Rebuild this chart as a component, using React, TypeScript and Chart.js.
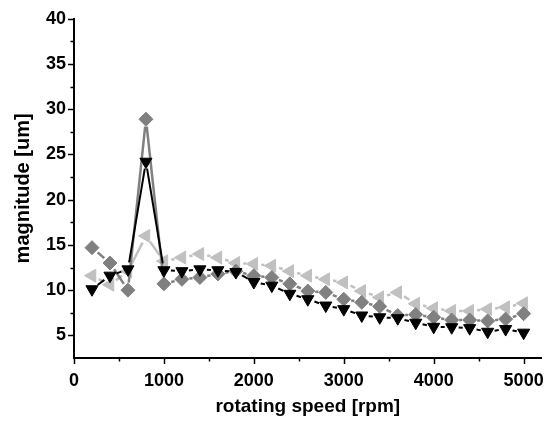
import React, { useEffect, useRef } from "react";
import { Chart, registerables } from "chart.js";

Chart.register(...registerables);

const speeds = [200, 400, 600, 800, 1000, 1200, 1400, 1600, 1800, 2000, 2200, 2400, 2600, 2800, 3000, 3200, 3400, 3600, 3800, 4000, 4200, 4400, 4600, 4800, 5000];
const blackSeries = [10.1, 11.6, 12.3, 24.2, 12.2, 12.1, 12.3, 12.2, 12.0, 10.9, 10.5, 9.6, 9.0, 8.3, 7.9, 7.2, 7.0, 6.9, 6.4, 5.95, 5.9, 5.8, 5.4, 5.7, 5.3];
const greySeries = [14.7, 13.0, 10.0, 28.9, 10.7, 11.2, 11.4, 11.8, 12.1, 11.6, 11.4, 10.7, 9.9, 9.75, 9.0, 8.65, 8.2, 7.2, 7.3, 7.0, 6.7, 6.7, 6.6, 6.8, 7.4];
const lightSeries = [11.6, 10.6, 12.1, 16.0, 13.2, 13.6, 14.0, 13.6, 13.0, 12.9, 12.7, 12.1, 11.6, 11.2, 10.85, 9.9, 9.2, 9.75, 8.5, 8.0, 7.7, 7.7, 7.9, 8.1, 8.55];
const xTickValues = [0, 1000, 2000, 3000, 4000, 5000];
const yTickValues = [5, 10, 15, 20, 25, 30, 35, 40];

const FONT = "'Liberation Sans', Arial, sans-serif";

const pts = (ys: number[]) => speeds.map((x, i) => ({ x, y: ys[i] }));

// line stops short of each symbol (gap-to-symbol look)
const gapDash = (gap: number) => (ctx: any) => {
  const dx = ctx.p1.x - ctx.p0.x;
  const dy = ctx.p1.y - ctx.p0.y;
  const len = Math.hypot(dx, dy);
  const mid = Math.max(len - 2 * gap, 0);
  return [0, Math.min(gap, len / 2), mid, Math.min(gap, len / 2)];
};

const minorTicks = {
  id: "minorTicks",
  afterDraw(chart: any) {
    const { ctx } = chart;
    const xs = chart.scales.x;
    const ys = chart.scales.y;
    ctx.save();
    ctx.strokeStyle = "#000";
    ctx.lineWidth = 1.5;
    ctx.beginPath();
    for (let v = 0; v <= 5000; v += 500) {
      const px = Math.round(xs.getPixelForValue(v)) + 0.5;
      const len = v % 1000 === 0 ? 6 : 3.5;
      ctx.moveTo(px, ys.bottom);
      ctx.lineTo(px, ys.bottom + len);
    }
    for (let v = 5; v <= 40; v += 2.5) {
      const py = Math.round(ys.getPixelForValue(v)) + 0.5;
      const len = v % 5 === 0 ? 6 : 3.5;
      ctx.moveTo(xs.left, py);
      ctx.lineTo(xs.left - len, py);
    }
    ctx.stroke();
    ctx.restore();
  },
};

export default function App() {
  const ref = useRef<HTMLCanvasElement | null>(null);
  useEffect(() => {
    if (!ref.current) return;
    const chart = new Chart(ref.current, {
      type: "line",
      data: {
        datasets: [
          {
            data: pts(blackSeries),
            borderColor: "#000000",
            backgroundColor: "#000000",
            borderWidth: 2,
            pointStyle: "triangle",
            rotation: 180,
            pointRadius: 7,
            pointBorderWidth: 1,
            order: 0,
            segment: { borderDash: gapDash(7) },
          },
          {
            data: pts(greySeries),
            borderColor: "#808080",
            backgroundColor: "#808080",
            borderWidth: 2.5,
            pointStyle: "rectRot",
            pointRadius: 7,
            pointBorderWidth: 1,
            order: 1,
            segment: { borderDash: gapDash(7.5) },
          },
          {
            data: pts(lightSeries),
            borderColor: "#c0c0c0",
            backgroundColor: "#c0c0c0",
            borderWidth: 2.5,
            pointStyle: "triangle",
            rotation: 270,
            pointRadius: 7.5,
            pointBorderWidth: 1,
            order: 2,
            segment: { borderDash: gapDash(7.5) },
          },
        ],
      },
      options: {
        animation: false,
        responsive: false,
        maintainAspectRatio: false,
        layout: { padding: { left: 0, top: 16, right: 9, bottom: 0 } },
        plugins: { legend: { display: false }, tooltip: { enabled: false } },
        scales: {
          x: {
            type: "linear",
            min: 0,
            max: 5200,
            afterBuildTicks: (s: any) => {
              s.ticks = xTickValues.map((v) => ({ value: v }));
            },
            afterFit: (s: any) => {
              s.height = 65;
            },
            grid: { display: true, drawOnChartArea: false, drawTicks: false },
            border: { display: true, color: "#000", width: 2 },
            ticks: {
              color: "#000",
              padding: 12,
              maxRotation: 0,
              autoSkip: false,
              callback: (v: any) => String(v),
              font: { family: FONT, size: 18, weight: "bold" },
            },
            title: {
              display: true,
              text: "rotating speed [rpm]",
              color: "#000",
              font: { family: FONT, size: 19, weight: "bold" },
              padding: { top: 0, bottom: 4.5 },
            },
          },
          y: {
            type: "linear",
            min: 2.5,
            max: 40,
            afterBuildTicks: (s: any) => {
              s.ticks = yTickValues.map((v) => ({ value: v }));
            },
            afterFit: (s: any) => {
              s.width = 74;
            },
            grid: { display: true, drawOnChartArea: false, drawTicks: false },
            border: { display: true, color: "#000", width: 2 },
            ticks: {
              color: "#000",
              padding: 8,
              autoSkip: false,
              callback: (v: any) => String(v),
              font: { family: FONT, size: 18, weight: "bold" },
            },
            title: {
              display: true,
              text: "magnitude [um]",
              color: "#000",
              font: { family: FONT, size: 20, weight: "bold" },
              padding: { top: 11, bottom: 0 },
            },
          },
        },
      },
      plugins: [minorTicks],
    });
    return () => chart.destroy();
  }, []);
  return (
    <div style={{ position: "absolute", left: 0, top: 0, width: 556, height: 423, background: "#fff" }}>
      <canvas ref={ref} width={556} height={423} style={{ width: 556, height: 423 }} />
    </div>
  );
}
